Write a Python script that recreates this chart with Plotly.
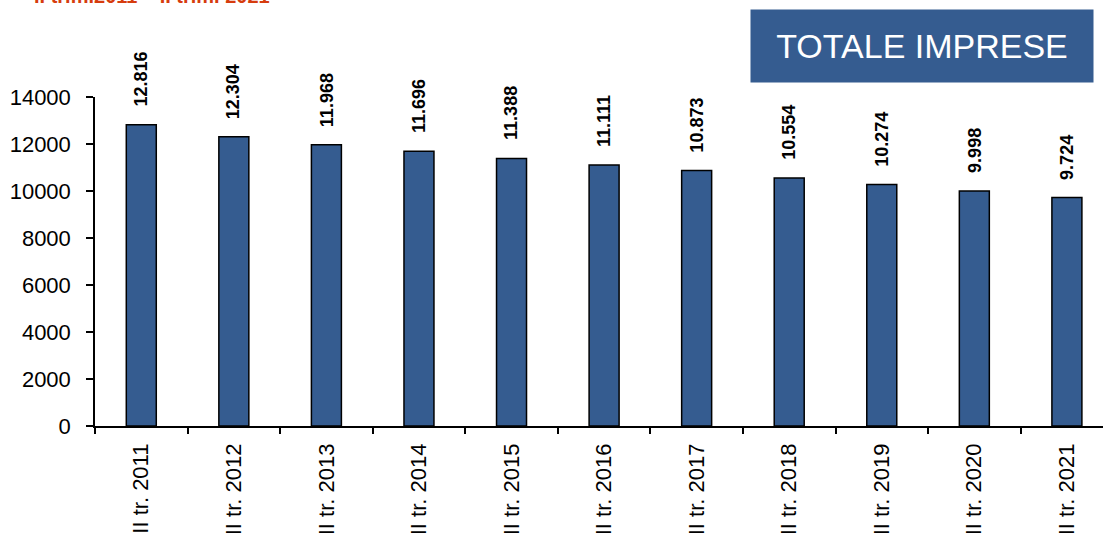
import plotly.graph_objects as go

categories = ["II tr. 2011", "II tr. 2012", "II tr. 2013", "II tr. 2014", "II tr. 2015",
              "II tr. 2016", "II tr. 2017", "II tr. 2018", "II tr. 2019", "II tr. 2020", "II tr. 2021"]
values = [12816, 12304, 11968, 11696, 11388, 11111, 10873, 10554, 10274, 9998, 9724]
y_ticks = [0, 2000, 4000, 6000, 8000, 10000, 12000, 14000]

FONT = "Arial, 'Liberation Sans', sans-serif"
BAR = "#355c90"

fig = go.Figure()
fig.add_trace(go.Bar(
    x=categories, y=values,
    marker=dict(color=BAR, line=dict(color="black", width=1.5)),
    showlegend=False, hoverinfo="x+y",
))

for c, v in zip(categories, values):
    fig.add_annotation(
        x=c, y=v, xref="x", yref="y",
        text="<b>" + f"{v:,}".replace(",", ".") + "</b>",
        textangle=-90, showarrow=False,
        yanchor="bottom", xanchor="center", yshift=16,
        font=dict(family=FONT, size=18, color="black"),
    )

# cut-off subtitle at the very top
fig.add_annotation(
    xref="paper", yref="paper", x=-0.0625, y=1.268,
    xanchor="left", yanchor="bottom", showarrow=False,
    text="<b>II trim.2011 – II trim. 2021</b>",
    font=dict(family=FONT, size=20, color="#d63c0e"),
)

# TOTALE IMPRESE box
fig.add_annotation(
    xref="paper", yref="paper", x=0.8204, y=1.155,
    xanchor="center", yanchor="middle", showarrow=False,
    text="TOTALE IMPRESE", width=342, height=72, borderpad=0,
    bgcolor=BAR, font=dict(family=FONT, size=34, color="white"),
)

fig.update_layout(
    width=1103, height=533,
    margin=dict(l=95, r=0, t=97, b=107, autoexpand=False),
    paper_bgcolor="white", plot_bgcolor="white",
    bargap=0.676,
    font=dict(family=FONT, color="black"),
    xaxis=dict(
        type="category", range=[-0.5, 10.39], automargin=False,
        tickson="boundaries", ticks="outside", ticklen=6, tickwidth=1.5, tickcolor="black",
        showline=True, linecolor="black", linewidth=1.5,
        tickangle=-90, tickfont=dict(size=22, family=FONT, color="black"),
        showgrid=False, ticklabelstandoff=7,
    ),
    yaxis=dict(
        range=[0, 14000], tickvals=y_ticks, ticktext=[str(t) for t in y_ticks],
        automargin=False,
        ticks="outside", ticklen=7, tickwidth=1.5, tickcolor="black",
        showline=True, linecolor="black", linewidth=1.5,
        tickfont=dict(size=22, family=FONT, color="black"),
        showgrid=False, zeroline=False, ticklabelstandoff=11,
    ),
)

fig.write_html("out.html", config={"displayModeBar": False},
               post_script="document.body.style.margin='0';document.body.style.overflow='hidden';")
